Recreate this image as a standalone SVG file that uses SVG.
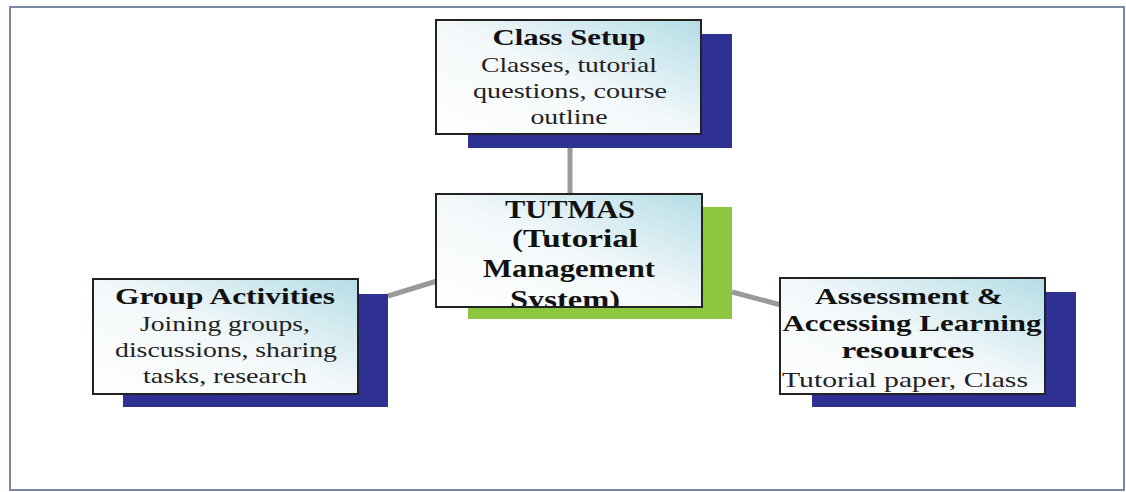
<svg xmlns="http://www.w3.org/2000/svg" width="1126" height="492" viewBox="0 0 1126 492">
  <defs>
    <linearGradient id="boxfill" x1="0" y1="1" x2="1" y2="0">
      <stop offset="0" stop-color="#ffffff"/>
      <stop offset="0.5" stop-color="#f3f8fa"/>
      <stop offset="1" stop-color="#b4dde6"/>
    </linearGradient>
    <clipPath id="tutclip"><rect x="436" y="194" width="266" height="113"/></clipPath>
  </defs>
  <style>
    .frame { fill: #ffffff; stroke: #7c87a6; stroke-width: 2; }
    .shadow { fill: #2e3192; }
    .shadow-green { fill: #8dc63f; }
    .box { fill: url(#boxfill); stroke: #222222; stroke-width: 2; }
    .conn { stroke: #9a9a9a; stroke-width: 5; fill: none; }
    .title { font-family: "Liberation Serif", serif; font-weight: bold; font-size: 23px; fill: #111111; text-anchor: middle; }
    .big { font-family: "Liberation Serif", serif; font-weight: bold; font-size: 26px; fill: #111111; text-anchor: middle; }
    .body { font-family: "Liberation Serif", serif; font-size: 21px; fill: #222222; text-anchor: middle; }
  </style>

  <rect class="frame" x="10" y="7" width="1114" height="483"/>

  <g id="connectors">
    <line class="conn" x1="570" y1="134" x2="570" y2="195"/>
    <line class="conn" x1="388" y1="296" x2="437" y2="281"/>
    <line class="conn" x1="732" y1="292" x2="781" y2="305"/>
  </g>

  <g id="class-setup">
    <rect class="shadow" x="468" y="34" width="264" height="114"/>
    <rect class="box" x="436" y="20" width="265" height="114"/>
    <text class="title" x="569" y="45" textLength="153" lengthAdjust="spacingAndGlyphs">Class Setup</text>
    <text class="body" x="569" y="72" textLength="176" lengthAdjust="spacingAndGlyphs">Classes, tutorial</text>
    <text class="body" x="570" y="98" textLength="194" lengthAdjust="spacingAndGlyphs">questions, course</text>
    <text class="body" x="569" y="124" textLength="77" lengthAdjust="spacingAndGlyphs">outline</text>
  </g>

  <g id="tutmas">
    <rect class="shadow-green" x="468" y="207" width="264" height="112"/>
    <rect class="box" x="436" y="194" width="266" height="113"/>
    <g clip-path="url(#tutclip)">
      <text class="big" x="570" y="218" textLength="130" lengthAdjust="spacingAndGlyphs">TUTMAS</text>
      <text class="big" x="575" y="247" textLength="126" lengthAdjust="spacingAndGlyphs">(Tutorial</text>
      <text class="big" x="569" y="277" textLength="172" lengthAdjust="spacingAndGlyphs">Management</text>
      <text class="big" x="565" y="308" textLength="110" lengthAdjust="spacingAndGlyphs">System)</text>
    </g>
    <rect x="436" y="194" width="266" height="113" fill="none" stroke="#222222" stroke-width="2"/>
  </g>

  <g id="group-activities">
    <rect class="shadow" x="123" y="294" width="265" height="113"/>
    <rect class="box" x="93" y="279" width="265" height="115"/>
    <text class="title" x="225" y="304" textLength="220" lengthAdjust="spacingAndGlyphs">Group Activities</text>
    <text class="body" x="225" y="331" textLength="170" lengthAdjust="spacingAndGlyphs">Joining groups,</text>
    <text class="body" x="226" y="357" textLength="222" lengthAdjust="spacingAndGlyphs">discussions, sharing</text>
    <text class="body" x="225" y="383" textLength="164" lengthAdjust="spacingAndGlyphs">tasks, research</text>
  </g>

  <g id="assessment">
    <rect class="shadow" x="812" y="292" width="264" height="115"/>
    <rect class="box" x="780" y="278" width="265" height="116"/>
    <text class="title" x="909" y="304" textLength="188" lengthAdjust="spacingAndGlyphs">Assessment &amp;</text>
    <text class="title" x="912" y="331" textLength="259" lengthAdjust="spacingAndGlyphs">Accessing Learning</text>
    <text class="title" x="908" y="358" textLength="133" lengthAdjust="spacingAndGlyphs">resources</text>
    <text class="body" x="905" y="387" textLength="246" lengthAdjust="spacingAndGlyphs">Tutorial paper, Class</text>
  </g>
</svg>
